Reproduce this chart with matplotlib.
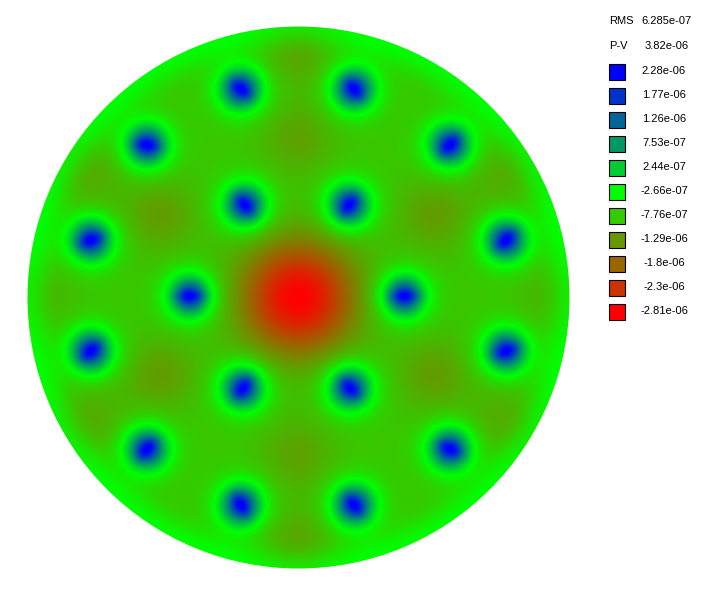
import numpy as np
import matplotlib
matplotlib.use("Agg")
import matplotlib.pyplot as plt
from matplotlib.colors import LinearSegmentedColormap
from matplotlib.patches import Circle, Rectangle

# legend
rms_label = "6.285e-07"
pv_label = "3.82e-06"
level_labels = ["2.28e-06", "1.77e-06", "1.26e-06", "7.53e-07", "2.44e-07", "-2.66e-07",
                "-7.76e-07", "-1.29e-06", "-1.8e-06", "-2.3e-06", "-2.81e-06"]
level_values = [2.28e-06, 1.77e-06, 1.26e-06, 7.53e-07, 2.44e-07, -2.66e-07,
                -7.76e-07, -1.29e-06, -1.8e-06, -2.3e-06, -2.81e-06]
level_colors = ["#0000ff", "#0033cc", "#006699", "#009966", "#00cc33", "#00ff00",
                "#33cc00", "#669900", "#996600", "#cc3300", "#ff0000"]

# blue peaks (pixels), angle = direction of the blue streak
peak_x = [245, 349, 190, 404, 243, 350,
          241, 354, 147, 450, 91, 506, 91, 506, 147, 450, 241, 354]
peak_y = [205, 205, 296, 296, 388, 388,
          89, 89, 145, 145, 240, 240, 351, 351, 449, 449, 505, 505]
peak_angle = [50, -55, 0, 0, -55, 45,
              40, 50, 10, -45, -20, -45, -40, -20, -50, 25, 60, 50]

# brown patches between the peaks
low_x = [298, 298, 298, 298, 160, 435, 160, 435, 90, 505, 90, 505, 40, 555]
low_y = [138, 50, 455, 545, 215, 215, 375, 375, 175, 175, 420, 420, 297, 297]
low_depth = [0.35e-06, 0.35e-06, 0.35e-06, 0.35e-06, 0.4e-06, 0.4e-06, 0.4e-06, 0.4e-06,
             0.28e-06, 0.28e-06, 0.28e-06, 0.28e-06, 0.2e-06, 0.2e-06]

# the surface itself cannot be read point by point, so it is rebuilt from the
# peaks and patches above
cx, cy, radius = 298.5, 297.5, 271
yy, xx = np.mgrid[0:596, 0:709] + 0.5
rr = np.hypot(xx - cx, yy - cy)

field = np.full(xx.shape, -0.85e-06)
for x, y, d in zip(low_x, low_y, low_depth):
    field -= d * np.exp(-((xx - x) ** 2 + (yy - y) ** 2) / (2 * 26 ** 2))
for x, y, a in zip(peak_x, peak_y, peak_angle):
    t = np.radians(a)
    u = (xx - x) * np.cos(t) + (yy - y) * np.sin(t)
    v = -(xx - x) * np.sin(t) + (yy - y) * np.cos(t)
    d2 = (xx - x) ** 2 + (yy - y) ** 2
    field += 2.0e-06 * np.exp(-d2 / (2 * 13.5 ** 2))
    field += 0.6e-06 * np.exp(-(u ** 2 / (2 * 9 ** 2) + v ** 2 / (2 * 4.5 ** 2)))
    field += 0.65e-06 * np.exp(-d2 / (2 * 22 ** 2))
field -= 1.96e-06 * np.exp(-((xx - cx) ** 2 + (yy - cy) ** 2) / (2 * 40 ** 2))
field += 0.55e-06 * np.exp(-(((radius - rr) / 20) ** 2))

vmin, vmax = level_values[-1], level_values[0]
stops = [(v - vmin) / (vmax - vmin) for v in level_values[::-1]]
cmap = LinearSegmentedColormap.from_list("wave", list(zip(stops, level_colors[::-1])), N=512)

fig = plt.figure(figsize=(7.09, 5.96), dpi=100)
ax = fig.add_axes([0, 0, 1, 1])
ax.set_xlim(0, 709)
ax.set_ylim(596, 0)
ax.axis("off")

im = ax.imshow(field, cmap=cmap, vmin=vmin, vmax=vmax, extent=(0, 709, 596, 0),
               interpolation="nearest", aspect="auto")
disc = Circle((cx, cy), radius, transform=ax.transData)
im.set_clip_path(disc)

font = {"family": "Liberation Sans", "fontsize": 8, "color": "black", "va": "center"}
ax.text(609, 21, "RMS", ha="left", **font)
ax.text(666, 21, rms_label, ha="center", **font)
ax.text(609, 46, "P-V", ha="left", **font)
ax.text(667, 46, pv_label, ha="center", **font)

for i in range(len(level_labels)):
    y = 71.5 + i * 24
    ax.add_patch(Rectangle((609, y - 8), 16, 16, facecolor=level_colors[i],
                           edgecolor="black", linewidth=0.8))
    ax.text(664, y - 1, level_labels[i], ha="center", **font)

plt.savefig("out.png", dpi=100)
